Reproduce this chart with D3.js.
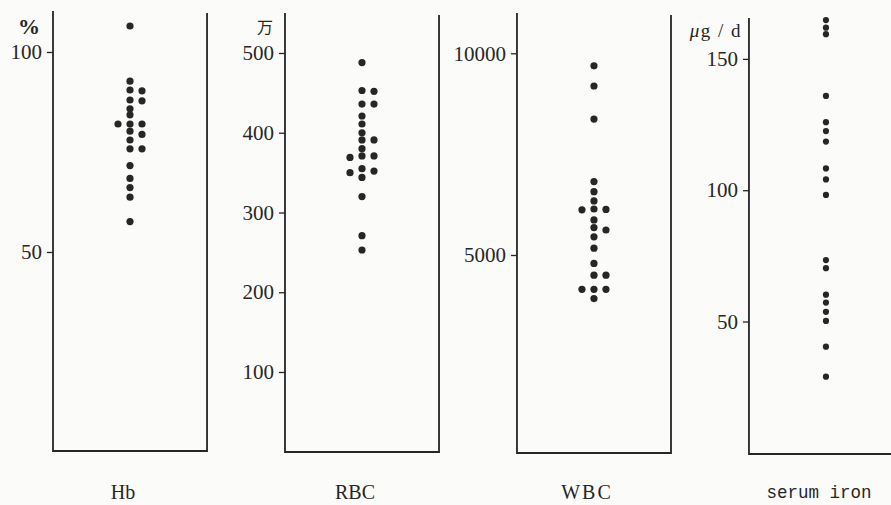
<!DOCTYPE html>
<html lang="ja">
<head>
<meta charset="UTF-8">
<title>Hb / RBC / WBC / serum iron</title>
<script src="https://cdn.jsdelivr.net/npm/d3@7"></script>
<style>
  body { margin: 0; background: #fbfbf9; }
  svg { display: block; }
</style>
</head>
<body>
<svg width="891" height="505"></svg>

<script>
// panels (one per measure)
const categories = ["Hb", "RBC", "WBC", "serum iron"];
const units = ["%", "万", "", "μg / d"];

// values, one dot per patient
const hbValues = [106.5, 92.7, 90.5, 90.3, 88.0, 87.8, 85.8, 84.3, 82.0, 82.0, 82.0,
  80.2, 79.4, 78.0, 75.8, 75.8, 71.6, 68.4, 66.1, 63.7, 57.6];
const rbcValues = [488, 453, 452, 436, 436, 421, 411, 400, 391, 391, 380,
  371, 371, 369, 355, 352, 350, 344, 320, 271, 253];
const wbcValues = [9690, 9190, 8370, 6820, 6570, 6340, 6140, 6130, 6120, 5870, 5680,
  5620, 5450, 5170, 4790, 4500, 4500, 4150, 4150, 4150, 3920];
const ironValues = [164.8, 161.9, 159.4, 135.9, 125.9, 122.5, 118.5, 108.3, 104.1, 98.2,
  73.4, 70.3, 60.2, 57.2, 53.7, 50.2, 40.4, 29.0];

// tick labels
const hbTicks = [50, 100];
const rbcTicks = [100, 200, 300, 400, 500];
const wbcTicks = [5000, 10000];
const ironTicks = [50, 100, 150];

// layout of each panel: frame top/bottom and where two values fall on the page
const panels = [
  { values: hbValues, ticks: hbTicks, top: 11, bottom: 451, domain: [50, 100], range: [252, 52], r: 3.6 },
  { values: rbcValues, ticks: rbcTicks, top: 13, bottom: 452, domain: [100, 500], range: [372, 53], r: 3.6 },
  { values: wbcValues, ticks: wbcTicks, top: 13, bottom: 453, domain: [5000, 10000], range: [255, 53.3], r: 3.6 },
  { values: ironValues, ticks: ironTicks, top: 18, bottom: 454, domain: [50, 150], range: [321.5, 58.9], r: 3.1 }
];

const ink = "#262626";
const colStep = 12;     // horizontal gap between dot columns
const minGap = 5;       // two dots closer than this (px) go to side columns

const svg = d3.select("svg");

// panel position
const x = d3.scaleBand()
  .domain(categories)
  .range([53, 903])
  .paddingInner(0.336);

// put dots in the centre column, or right / left when they collide
function dodge(values, y) {
  const placed = { "0": [], "1": [], "-1": [] };
  return values.slice().sort((a, b) => b - a).map(v => {
    const py = y(v);
    let col = 0;
    for (const c of [0, 1, -1]) {
      if (placed[c].every(q => Math.abs(q - py) >= minGap)) { col = c; break; }
    }
    placed[String(col)].push(py);
    return { v, col };
  });
}

panels.forEach((p, i) => {
  const name = categories[i];
  const left = x(name);
  const right = left + x.bandwidth();
  const y = d3.scaleLinear().domain(p.domain).range(p.range);

  const g = svg.append("g");

  // open box: left axis, bottom line, right line
  g.append("path")
    .attr("d", `M${left},${p.top}V${p.bottom}H${right}V${p.top + 2}`)
    .attr("fill", "none")
    .attr("stroke", ink)
    .attr("stroke-width", 1.8);

  // ticks + labels
  const axis = g.append("g")
    .attr("transform", `translate(${left},0)`)
    .call(d3.axisLeft(y).tickValues(p.ticks).tickSize(6).tickPadding(5).tickFormat(d3.format("d")));
  axis.select(".domain").remove();
  axis.selectAll(".tick line").attr("stroke", ink).attr("stroke-width", 1.3);
  axis.selectAll(".tick text")
    .attr("fill", ink)
    .style("font-family", "'Liberation Serif', serif")
    .style("font-size", "21px");

  // unit above the axis
  if (i === 0) {
    g.append("text")
      .attr("x", left - 13).attr("y", 34)
      .attr("text-anchor", "end")
      .attr("fill", ink)
      .style("font-family", "'Liberation Serif', serif")
      .style("font-size", "22px")
      .style("font-weight", "bold")
      .text(units[i]);
  } else if (i === 1) {
    g.append("text")
      .attr("x", left - 12).attr("y", 33)
      .attr("text-anchor", "end")
      .attr("fill", ink)
      .style("font-family", "'Noto Sans CJK JP', sans-serif")
      .style("font-size", "16px")
      .text(units[i]);
  } else if (i === 3) {
    const t = g.append("text")
      .attr("x", left - 7).attr("y", 37)
      .attr("text-anchor", "end")
      .attr("fill", ink)
      .style("font-family", "'Liberation Serif', serif")
      .style("font-size", "19px")
      .style("letter-spacing", "1.5px");
    t.append("tspan").style("font-style", "italic").text(units[i].slice(0, 1));
    t.append("tspan").text(units[i].slice(1));
  }

  // dots
  const cx = left + 77;
  g.selectAll("circle")
    .data(dodge(p.values, y))
    .join("circle")
    .attr("cx", d => cx + d.col * colStep)
    .attr("cy", d => y(d.v))
    .attr("r", p.r)
    .attr("fill", ink);

  // panel name under the box
  g.append("text")
    .attr("x", left + 70)
    .attr("y", i === 3 ? 498 : 499)
    .attr("text-anchor", "middle")
    .attr("fill", ink)
    .style("font-family", i === 3 ? "'Liberation Mono', monospace" : "'Liberation Serif', serif")
    .style("font-size", i === 3 ? "17.5px" : "20px")
    .style("letter-spacing", i === 2 ? "2px" : "0px")
    .text(name);
});
</script>
</body>
</html>
